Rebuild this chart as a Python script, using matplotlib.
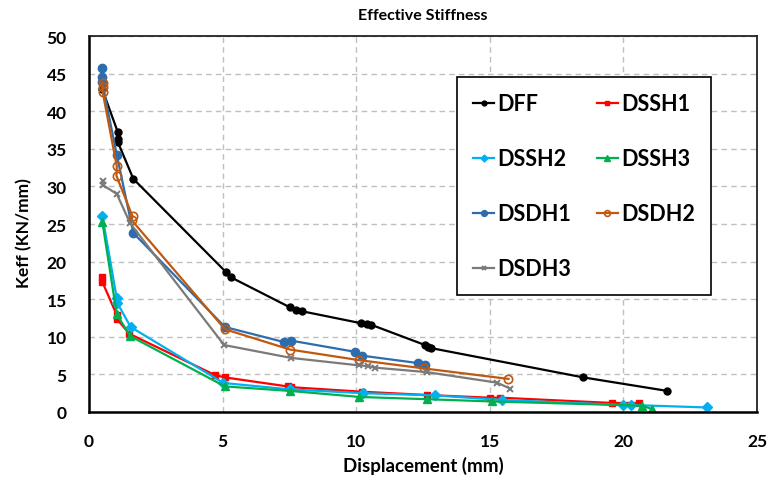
import matplotlib
matplotlib.use("Agg")
import matplotlib.pyplot as plt

plt.rcParams['font.family'] = ['Lato', 'DejaVu Sans']

dff_x = [0.5, 1.07, 1.08, 1.08, 1.66, 5.13, 5.32, 7.53, 7.74, 7.97, 10.19, 10.4, 10.56, 12.58, 12.7, 12.8, 18.5, 21.65]
dff_y = [42.9, 37.3, 36.3, 35.9, 31.0, 18.6, 17.9, 13.9, 13.6, 13.4, 11.8, 11.7, 11.6, 8.9, 8.6, 8.5, 4.6, 2.8]

dssh1_x = [0.5, 0.5, 1.04, 1.04, 1.51, 4.72, 5.09, 7.43, 7.55, 10.2, 12.65, 15.0, 15.4, 19.57, 20.6]
dssh1_y = [18.0, 17.3, 12.9, 12.4, 10.4, 4.9, 4.6, 3.4, 3.3, 2.7, 2.26, 1.9, 1.9, 1.2, 1.2]

dssh2_x = [0.5, 1.04, 1.06, 1.56, 5.03, 7.53, 10.27, 12.96, 15.46, 20.0, 20.3, 23.13]
dssh2_y = [26.1, 15.1, 14.5, 11.3, 3.86, 3.0, 2.5, 2.2, 1.6, 0.93, 0.93, 0.6]

dssh3_x = [0.5, 1.04, 1.54, 5.09, 7.53, 10.12, 12.65, 15.08, 20.7, 21.07]
dssh3_y = [25.3, 13.0, 10.1, 3.4, 2.8, 2.0, 1.7, 1.4, 0.84, 0.4]

dsdh1_x = [0.47, 0.47, 0.49, 1.04, 1.66, 5.09, 7.3, 7.55, 9.96, 10.2, 12.33, 12.58]
dsdh1_y = [45.7, 44.5, 43.9, 34.2, 23.8, 11.3, 9.3, 9.5, 8.0, 7.5, 6.5, 6.2]

dsdh2_x = [0.51, 0.51, 0.51, 1.04, 1.03, 1.63, 1.6, 5.09, 7.53, 10.1, 12.52, 15.7]
dsdh2_y = [43.8, 43.2, 42.6, 32.7, 31.4, 26.0, 25.5, 11.0, 8.3, 6.9, 5.8, 4.4]

dsdh3_x = [0.51, 0.51, 1.04, 1.54, 5.06, 7.55, 10.1, 10.46, 10.7, 12.65, 15.27, 15.77]
dsdh3_y = [30.7, 30.2, 29.0, 25.1, 8.9, 7.2, 6.2, 6.1, 5.9, 5.3, 3.9, 3.1]

fig = plt.figure(figsize=(7.84, 4.81), dpi=100)
ax = fig.add_axes([0.1135, 0.1414, 0.852, 0.7816])

lw = 1.6
h_dff, = ax.plot(dff_x, dff_y, color='black', marker='o', ms=5, lw=lw, label='DFF')
h_s1, = ax.plot(dssh1_x, dssh1_y, color='#FF0000', marker='s', ms=5, lw=lw, label='DSSH1')
h_s2, = ax.plot(dssh2_x, dssh2_y, color='#00B0F0', marker='D', ms=5, lw=lw, label='DSSH2')
h_s3, = ax.plot(dssh3_x, dssh3_y, color='#00B050', marker='^', ms=6, lw=lw, label='DSSH3')
h_d1, = ax.plot(dsdh1_x, dsdh1_y, color='#2E6DAD', marker='o', ms=6, lw=lw, label='DSDH1')
h_d2, = ax.plot(dsdh2_x, dsdh2_y, color='#C0580F', marker='o', ms=6, mfc='none', mew=1.2, lw=lw, label='DSDH2')
h_d3, = ax.plot(dsdh3_x, dsdh3_y, color='#7A7A7A', marker='x', ms=5, mew=1.4, lw=lw, label='DSDH3')

ax.set_xlim(0, 25)
ax.set_ylim(0, 50)
ax.set_xticks(range(0, 26, 5))
ax.set_yticks(range(0, 51, 5))
ax.grid(True, ls=(0, (4, 3)), color='#BFBFBF', lw=1)
ax.set_axisbelow(True)
for s in ['top', 'right']:
    ax.spines[s].set_linewidth(1.3)
    ax.spines[s].set_color('#222222')
for s in ['left', 'bottom']:
    ax.spines[s].set_linewidth(1.8)
    ax.spines[s].set_color('black')
ax.tick_params(length=0, labelsize=12.5)
ax.tick_params(axis='y', pad=16)
ax.tick_params(axis='x', pad=15)
for lab in ax.get_xticklabels() + ax.get_yticklabels():
    lab.set_fontweight('bold')

ax.set_xlabel('Displacement (mm)', fontsize=13.5, fontweight='bold', labelpad=5)
ax.set_ylabel('Keff (KN/mm)', fontsize=12.5, fontweight='bold')
ax.yaxis.set_label_coords(-0.0853, 0.479)
ax.set_title('Effective Stiffness', fontsize=11.5, fontweight='bold', pad=12)

handles = [h_dff, h_s2, h_d1, h_d3, h_s1, h_s3, h_d2]
leg = ax.legend(handles=handles, labels=[h.get_label() for h in handles], ncol=2,
                loc='upper left', bbox_to_anchor=(0.551, 0.891),
                prop={'weight': 'bold', 'size': 15.5}, frameon=True, fancybox=False,
                edgecolor='black', framealpha=1, handlelength=0.97, handletextpad=0.15,
                labelspacing=1.58, columnspacing=1.2, borderpad=0.75, borderaxespad=0,
                markerscale=0.7)
leg.get_frame().set_linewidth(1.2)

fig.savefig('out.png', dpi=100)
